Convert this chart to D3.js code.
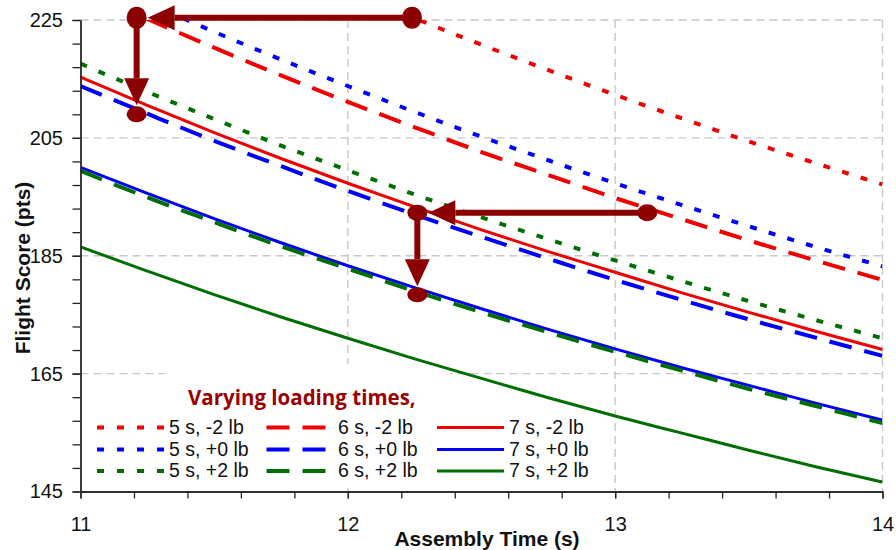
<!DOCTYPE html>
<html>
<head>
<meta charset="utf-8">
<script src="https://cdn.jsdelivr.net/npm/d3@7"></script>
<style>
  body { margin: 0; background: #fff; }
  svg { display: block; }
</style>
</head>
<body>
<svg id="chart" width="896" height="550"></svg>
<script>
// Assembly time (s) sampled along each curve
const assemblyTimes = [11, 11.25, 11.5, 11.75, 12, 12.25, 12.5, 12.75, 13, 13.25, 13.5, 13.75, 14];

// Flight score (pts); null where the curve is above the plotted range
const score5sMinus2 = [null, null, null, null, 230.0, 225.3, 220.8, 216.5, 212.3, 208.3, 204.4, 200.7, 197.1];
const score5sZero   = [null, 228.0, 223.0, 218.3, 213.8, 209.4, 205.2, 201.2, 197.3, 193.6, 190.0, 186.5, 183.2];
const score5sPlus2  = [217.6, 212.8, 208.2, 203.7, 199.5, 195.4, 191.5, 187.8, 184.2, 180.7, 177.3, 174.1, 171.0];
const score6sMinus2 = [230.3, 225.2, 220.3, 215.6, 211.1, 206.8, 202.6, 198.7, 194.8, 191.2, 187.6, 184.2, 180.9];
const score6sZero   = [213.8, 209.1, 204.5, 200.2, 196.0, 192.0, 188.2, 184.5, 180.9, 177.5, 174.2, 171.1, 168.0];
const score6sPlus2  = [199.4, 194.9, 190.7, 186.6, 182.8, 179.0, 175.4, 172.0, 168.7, 165.5, 162.4, 159.5, 156.6];
const score7sMinus2 = [215.3, 210.5, 205.9, 201.5, 197.3, 193.3, 189.4, 185.7, 182.2, 178.7, 175.4, 172.2, 169.1];
const score7sZero   = [200.0, 195.6, 191.3, 187.2, 183.3, 179.6, 176.0, 172.5, 169.2, 166.0, 163.0, 160.0, 157.1];
const score7sPlus2  = [186.5, 182.4, 178.4, 174.6, 171.0, 167.5, 164.2, 160.9, 157.8, 154.9, 152.0, 149.2, 146.6];

const loadingTimes = ["5 s", "6 s", "7 s"];
const weightChanges = ["-2 lb", "+0 lb", "+2 lb"];

const xTicks = [11, 12, 13, 14];
const yTicks = [145, 165, 185, 205, 225];
const xMinorTicks = [11, 11.2, 11.4, 11.6, 11.8, 12, 12.2, 12.4, 12.6, 12.8, 13, 13.2, 13.4, 13.6, 13.8, 14];
const yMinorTicks = [145, 149, 153, 157, 161, 165, 169, 173, 177, 181, 185, 189, 193, 197, 201, 205, 209, 213, 217, 221, 225];

// Reading guides: start point -> corner -> end point
const guideA = [[12.24, 225.4], [11.21, 225.4], [11.21, 209.0]];
const guideB = [[13.12, 192.3], [12.26, 192.3], [12.26, 178.4]];

const legendTitle = "Varying loading times,";
const xTitle = "Assembly Time (s)";
const yTitle = "Flight Score (pts)";

// ---------------------------------------------------------------
const weightColor = { "-2 lb": "#f00000", "+0 lb": "#0000ff", "+2 lb": "#006e00" };
const loadStyle = {
  "5 s": { dash: "7 12.5", width: 4 },
  "6 s": { dash: "23 13", width: 4 },
  "7 s": { dash: null, width: 3 }
};

const seriesValues = {
  "5 s|-2 lb": score5sMinus2, "5 s|+0 lb": score5sZero, "5 s|+2 lb": score5sPlus2,
  "6 s|-2 lb": score6sMinus2, "6 s|+0 lb": score6sZero, "6 s|+2 lb": score6sPlus2,
  "7 s|-2 lb": score7sMinus2, "7 s|+0 lb": score7sZero, "7 s|+2 lb": score7sPlus2
};

// series order: by weight change, then loading time
const series = [];
weightChanges.forEach(w => loadingTimes.forEach(t => {
  series.push({ load: t, weight: w, label: `${t}, ${w}`, values: seriesValues[`${t}|${w}`] });
}));

const svg = d3.select("#chart");
const plotLeft = 80.5, plotRight = 882.5, plotTop = 20, plotBottom = 491.5;

const x = d3.scaleLinear().domain([11, 14]).range([plotLeft, plotRight]);
const y = d3.scaleLinear().domain([145, 225]).range([plotBottom, plotTop]);

const FONT = "'Liberation Sans', Arial, sans-serif";

// grid
const grid = svg.append("g").attr("stroke", "#c8c8c8").attr("stroke-width", 1.4).attr("stroke-dasharray", "8 5");
grid.selectAll("line.h").data(yTicks.filter(v => v > 145)).join("line").attr("class", "h")
  .attr("x1", plotLeft).attr("x2", plotRight).attr("y1", d => y(d)).attr("y2", d => y(d));
grid.selectAll("line.v").data(xTicks.filter(v => v > 11)).join("line").attr("class", "v")
  .attr("x1", d => x(d)).attr("x2", d => x(d)).attr("y1", plotTop).attr("y2", plotBottom);

// legend backgrounds sit over the grid
svg.append("rect").attr("x", 165).attr("y", 364).attr("width", 285).attr("height", 48).attr("fill", "#fff");
svg.append("rect").attr("x", 88).attr("y", 412).attr("width", 510).attr("height", 74).attr("fill", "#fff");

// curves
svg.append("clipPath").attr("id", "plot-clip").append("rect")
  .attr("x", plotLeft).attr("y", plotTop).attr("width", plotRight - plotLeft).attr("height", plotBottom - plotTop);

const line = d3.line()
  .defined(d => d[1] != null)
  .x(d => x(d[0])).y(d => y(d[1]))
  .curve(d3.curveMonotoneX);

svg.append("g").attr("clip-path", "url(#plot-clip)")
  .selectAll("path").data(series).join("path")
  .attr("fill", "none")
  .attr("stroke", d => weightColor[d.weight])
  .attr("stroke-width", d => loadStyle[d.load].width)
  .attr("stroke-dasharray", d => loadStyle[d.load].dash)
  .attr("d", d => line(assemblyTimes.map((t, i) => [t, d.values[i]])));

// axes
function styleAxis(g) {
  g.attr("font-family", FONT).attr("font-size", 20);
  g.selectAll("path, line").attr("stroke", "#222").attr("stroke-width", 1.3);
  g.selectAll("text").attr("fill", "#111");
}

svg.append("g").attr("transform", `translate(${plotLeft},0)`)
  .call(d3.axisLeft(y).tickValues(yMinorTicks).tickSize(8).tickSizeOuter(0).tickFormat(""))
  .call(styleAxis);
svg.append("g").attr("transform", `translate(${plotLeft},0)`)
  .call(d3.axisLeft(y).tickValues(yTicks).tickSize(8).tickSizeOuter(0).tickPadding(9.5).tickFormat(d3.format("d")))
  .call(styleAxis);

svg.append("g").attr("transform", `translate(0,${plotBottom})`)
  .call(d3.axisBottom(x).tickValues(xMinorTicks).tickSize(7).tickSizeOuter(0).tickFormat(""))
  .call(styleAxis);
svg.append("g").attr("transform", `translate(0,${plotBottom})`)
  .call(d3.axisBottom(x).tickValues(xTicks).tickSize(7).tickSizeOuter(0).tickPadding(18).tickFormat(d3.format("d")))
  .call(styleAxis);

// axis titles
svg.append("text").attr("x", 487).attr("y", 546).attr("text-anchor", "middle")
  .attr("font-family", FONT).attr("font-size", 21).attr("font-weight", "bold").attr("fill", "#111")
  .text(xTitle);
svg.append("text").attr("transform", "translate(30,268) rotate(-90)").attr("text-anchor", "middle")
  .attr("font-family", FONT).attr("font-size", 21).attr("font-weight", "bold").attr("fill", "#111")
  .text(yTitle);

// legend
svg.append("text").attr("x", 188).attr("y", 405)
  .attr("font-family", "'Open Sans', Lato, sans-serif").attr("font-size", 20.5).attr("font-weight", "bold")
  .attr("fill", "#990000").text(legendTitle);

const colX = { "5 s": 97, "6 s": 266.5, "7 s": 437 };
const colText = { "5 s": 169, "6 s": 338, "7 s": 509 };
const rowY = { "-2 lb": 427.5, "+0 lb": 449.5, "+2 lb": 471 };
const legend = svg.append("g");
series.forEach(s => {
  legend.append("line")
    .attr("x1", colX[s.load]).attr("x2", colX[s.load] + (s.load === "6 s" ? 60.5 : 67))
    .attr("y1", rowY[s.weight]).attr("y2", rowY[s.weight])
    .attr("stroke", weightColor[s.weight])
    .attr("stroke-width", loadStyle[s.load].width)
    .attr("stroke-dasharray", s.load === "5 s" ? "7 13" : loadStyle[s.load].dash);
  legend.append("text").attr("x", colText[s.load]).attr("y", rowY[s.weight] + 6)
    .attr("font-family", FONT).attr("font-size", 19.5).attr("fill", "#111")
    .text(s.label);
});

// reading guides
const guideColor = "#8b0000";
function drawGuide(pts, rys) {
  const g = svg.append("g");
  const p = pts.map(d => [x(d[0]), y(d[1])]);
  const head = 27, half = 12.5;
  for (let i = 0; i < 2; i++) {
    const a = p[i], b = p[i + 1];
    const dx = b[0] - a[0], dy = b[1] - a[1];
    const len = Math.hypot(dx, dy), ux = dx / len, uy = dy / len;
    const stop = (i === 0 ? 10 : rys[2]) + 1;
    const tip = [b[0] - ux * stop, b[1] - uy * stop];
    const base = [tip[0] - ux * head, tip[1] - uy * head];
    g.append("line").attr("x1", a[0]).attr("y1", a[1]).attr("x2", base[0]).attr("y2", base[1])
      .attr("stroke", guideColor).attr("stroke-width", 6);
    g.append("path")
      .attr("d", `M${tip[0]},${tip[1]}L${base[0] - uy * half},${base[1] + ux * half}L${base[0] + uy * half},${base[1] - ux * half}Z`)
      .attr("fill", guideColor);
  }
  p.forEach((c, i) => g.append("ellipse").attr("cx", c[0]).attr("cy", c[1])
    .attr("rx", 10).attr("ry", rys[i]).attr("fill", guideColor));
}
drawGuide(guideA, [11, 11, 8]);
drawGuide(guideB, [8.5, 8, 7.5]);
</script>
</body>
</html>
